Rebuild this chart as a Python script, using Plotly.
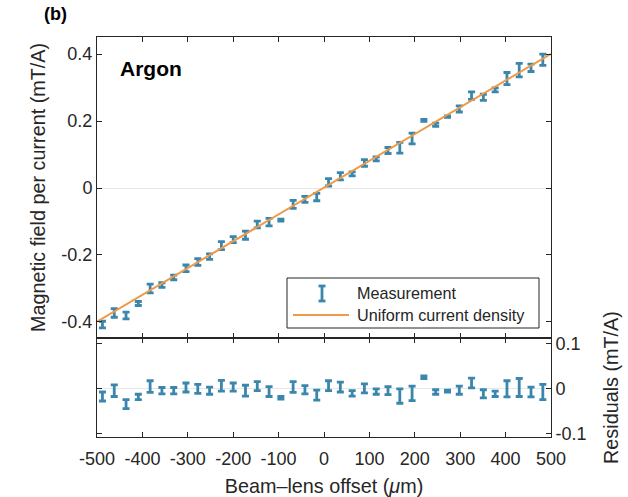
import plotly.graph_objects as go

# ---- data ----
offset_um = [-488, -462, -436, -409, -383, -357, -331, -304, -278, -252,
             -226, -200, -173, -147, -121, -95, -68, -42, -16, 10,
             36, 62, 89, 115, 141, 167, 194, 220, 246, 272,
             298, 325, 351, 377, 403, 430, 456, 482]
field_per_current = [-0.408, -0.373, -0.381, -0.345, -0.300, -0.290, -0.267, -0.240, -0.221, -0.205,
                     -0.172, -0.154, -0.141, -0.109, -0.102, -0.096, -0.049, -0.034, -0.027, 0.017,
                     0.035, 0.042, 0.075, 0.087, 0.112, 0.120, 0.148, 0.202, 0.189, 0.213,
                     0.236, 0.276, 0.271, 0.293, 0.327, 0.352, 0.359, 0.383]
uncertainty = [0.010, 0.013, 0.010, 0.006, 0.013, 0.007, 0.007, 0.010, 0.010, 0.008,
               0.012, 0.009, 0.012, 0.010, 0.011, 0.003, 0.012, 0.009, 0.011, 0.011,
               0.011, 0.006, 0.010, 0.006, 0.009, 0.016, 0.016, 0.003, 0.005, 0.002,
               0.009, 0.011, 0.009, 0.006, 0.018, 0.020, 0.011, 0.017]
residuals = [-0.017, -0.004, -0.034, -0.018, 0.005, -0.004, -0.004, 0.003, 0.000, -0.004,
             0.007, 0.004, -0.004, 0.006, -0.006, -0.020, 0.004, -0.002, -0.014, 0.007,
             0.004, -0.010, 0.001, -0.006, -0.004, -0.016, -0.010, 0.026, -0.007, -0.005,
             -0.003, 0.013, -0.011, -0.011, 0.000, 0.003, -0.007, -0.007]
fit_x = [-500, 500]
fit_y = [-0.399, 0.401]

x_ticks = [-500, -400, -300, -200, -100, 0, 100, 200, 300, 400, 500]
x_ticktext = ["-500", "-400", "-300", "-200", "-100", "0", "100", "200", "300", "400", "500"]
y_ticks = [-0.4, -0.2, 0, 0.2, 0.4]
y_ticktext = ["-0.4", "-0.2", "0", "0.2", "0.4"]
r_ticks = [-0.1, 0, 0.1]
r_ticktext = ["-0.1", "0", "0.1"]

BLUE = "#3A86AC"
ORANGE = "#EE9A48"
INK = "#262626"
FONT = "Liberation Sans"

fig = go.Figure()
fig.add_trace(go.Scatter(
    x=offset_um, y=field_per_current, mode="markers", name="Measurement",
    marker=dict(size=1, color=BLUE),
    error_y=dict(type="data", array=uncertainty, color=BLUE, thickness=2.8, width=3.5),
    xaxis="x", yaxis="y", showlegend=False))
fig.add_trace(go.Scatter(
    x=fit_x, y=fit_y, mode="lines", name="Uniform current density",
    line=dict(color=ORANGE, width=2), xaxis="x", yaxis="y", showlegend=False))
fig.add_trace(go.Scatter(
    x=offset_um, y=residuals, mode="markers", name="Residuals",
    marker=dict(size=1, color=BLUE),
    error_y=dict(type="data", array=uncertainty, color=BLUE, thickness=2.8, width=3.5),
    xaxis="x2", yaxis="y2", showlegend=False))

split = 0.2475
axis_common = dict(showline=True, linecolor=INK, linewidth=1, mirror="ticks",
                   ticks="inside", ticklen=5, tickcolor=INK, showgrid=False, automargin=False,
                   tickfont=dict(family=FONT, size=18, color=INK))

fig.update_layout(
    width=628, height=497,
    margin=dict(l=97, r=77, t=37, b=60),
    paper_bgcolor="white", plot_bgcolor="white",
    font=dict(family=FONT, color=INK),
    showlegend=False,
    xaxis=dict(domain=[0, 1], anchor="y", range=[-500, 500], tickvals=x_ticks,
               showticklabels=False, zeroline=False, matches="x2", **axis_common),
    xaxis2=dict(domain=[0, 1], anchor="y2", range=[-500, 500], tickvals=x_ticks,
                ticktext=x_ticktext, zeroline=False, ticklabelstandoff=5,
                title=dict(text="Beam–lens offset (<i>μ</i>m)", font=dict(family=FONT, size=19.8, color=INK),
                           standoff=12),
                **axis_common),
    yaxis=dict(domain=[split, 1], anchor="x", range=[-0.448, 0.451], tickvals=y_ticks,
               ticktext=y_ticktext, zeroline=True, zerolinecolor="#E6E6E6", zerolinewidth=1,
               title=dict(text="Magnetic field per current (mT/A)", font=dict(family=FONT, size=19.8, color=INK),
                          standoff=10),
               **axis_common),
    yaxis2=dict(domain=[0, split], anchor="x2", side="right", range=[-0.107, 0.113], tickvals=r_ticks,
                ticktext=r_ticktext, zeroline=True, zerolinecolor="#E6E6E6", zerolinewidth=1,
                title=dict(text="Residuals (mT/A)", font=dict(family=FONT, size=19.8, color=INK),
                           standoff=18),
                **axis_common),
)

def px2paper(x, y):
    return (x - 97) / 454.0, (437 - y) / 400.0

# manual legend
bx0, by0 = px2paper(287, 328)
bx1, by1 = px2paper(539, 278)
shapes = [dict(type="rect", xref="paper", yref="paper", x0=bx0, y0=by0, x1=bx1, y1=by1,
               line=dict(color=INK, width=1), fillcolor="white", layer="above")]
lx0, ly = px2paper(293, 315)
lx1, _ = px2paper(349, 315)
shapes.append(dict(type="line", xref="paper", yref="paper", x0=lx0, x1=lx1, y0=ly, y1=ly,
                   line=dict(color=ORANGE, width=2), layer="above"))
ex, ey0 = px2paper(322, 301)
_, ey1 = px2paper(322, 286)
cl, _ = px2paper(318.5, 0)
cr, _ = px2paper(325.5, 0)
shapes.append(dict(type="line", xref="paper", yref="paper", x0=ex, x1=ex, y0=ey0, y1=ey1,
                   line=dict(color=BLUE, width=2.8), layer="above"))
for yy in (ey0, ey1):
    shapes.append(dict(type="line", xref="paper", yref="paper", x0=cl, x1=cr, y0=yy, y1=yy,
                       line=dict(color=BLUE, width=2.8), layer="above"))
fig.update_layout(shapes=shapes)

tx, ty1 = px2paper(355, 293)
_, ty2 = px2paper(355, 315)
ax_, ay_ = px2paper(118, 69)
bxl, byl = px2paper(42, 14)
fig.update_layout(annotations=[
    dict(text="Measurement", xref="paper", yref="paper", x=tx, y=ty1, xanchor="left", yanchor="middle",
         showarrow=False, font=dict(family=FONT, size=16.2, color=INK)),
    dict(text="Uniform current density", xref="paper", yref="paper", x=tx, y=ty2, xanchor="left",
         yanchor="middle", showarrow=False, font=dict(family=FONT, size=16.2, color=INK)),
    dict(text="<b>Argon</b>", xref="paper", yref="paper", x=ax_, y=ay_, xanchor="left", yanchor="middle",
         showarrow=False, font=dict(family=FONT, size=21, color="black")),
    dict(text="<b>(b)</b>", xref="paper", yref="paper", x=bxl, y=byl, xanchor="left", yanchor="middle",
         showarrow=False, font=dict(family=FONT, size=18, color="black")),
])

fig.write_html("out.html")
